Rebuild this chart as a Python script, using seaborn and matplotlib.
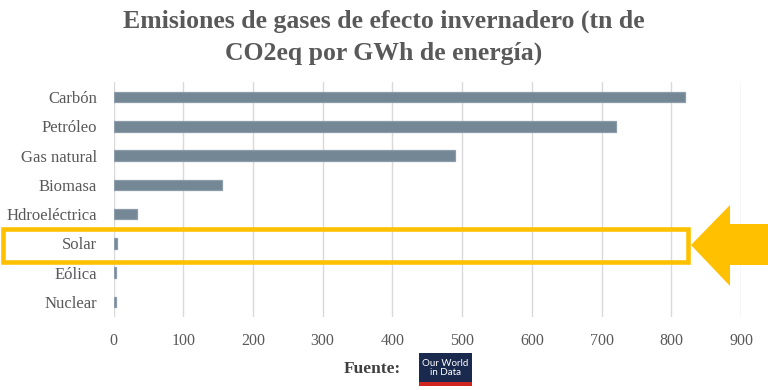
import pandas as pd
import seaborn as sns
import matplotlib.pyplot as plt
from matplotlib.patches import Rectangle, Polygon

# data
fuentes = ['Carbón', 'Petróleo', 'Gas natural', 'Biomasa', 'Hdroeléctrica',
           'Solar', 'Eólica', 'Nuclear']
emisiones = [820, 720, 490, 155, 34, 5, 4, 3]
ticks = [0, 100, 200, 300, 400, 500, 600, 700, 800, 900]

df = pd.DataFrame({'fuente': fuentes, 'emisiones': emisiones})

sns.set_theme(style='white')
plt.rcParams['font.family'] = ['Liberation Serif', 'DejaVu Serif']

txt = '#595959'
yellow = '#FFC000'
bar_col = '#748795'

fig = plt.figure(figsize=(7.68, 3.9), dpi=100)
ax = fig.add_axes([113.5 / 768, 1 - 316.7 / 390, 627.5 / 768, 234.4 / 390])

sns.barplot(data=df, x='emisiones', y='fuente', orient='h', color=bar_col,
            saturation=1, width=0.36, ax=ax, zorder=3,
            edgecolor='#8c9cab', linewidth=0.9)

ax.set_xlim(0, 900)
ax.set_ylim(7.5, -0.5)
ax.set_xticks(ticks)
ax.set_xticklabels([str(t) for t in ticks], fontsize=11.5, color=txt)
ax.tick_params(axis='y', labelsize=12, labelcolor=txt, length=0, pad=12)
ax.tick_params(axis='x', length=0, pad=12)
ax.set_xlabel('')
ax.set_ylabel('')
ax.grid(axis='x', color='#d9d9d9', linewidth=1, zorder=0)
ax.grid(axis='y', visible=False)
ax.set_axisbelow(True)
for s in ax.spines.values():
    s.set_visible(False)

fig.text(0.5, 1 - 21 / 390, 'Emisiones de gases de efecto invernadero (tn de',
         ha='center', va='center', fontsize=18.5, fontweight='bold', color=txt)
fig.text(0.5, 1 - 53 / 390, 'CO2eq por GWh de energía)',
         ha='center', va='center', fontsize=18.5, fontweight='bold', color=txt)

# highlight box around "Solar"
px = lambda x, y: (x / 768, 1 - y / 390)
x0, y0 = px(3, 261.5)
x1, y1 = px(688, 229)
fig.patches.append(Rectangle((x0, y0), x1 - x0, y1 - y0, transform=fig.transFigure,
                             fill=False, edgecolor=yellow, linewidth=3.3, zorder=5))

# arrow pointing at the box
arrow = [px(691, 245), px(730, 205), px(730, 224), px(768, 224),
         px(768, 265), px(730, 265), px(730, 286)]
fig.patches.append(Polygon(arrow, closed=True, transform=fig.transFigure,
                           facecolor=yellow, edgecolor='none', zorder=5))

# source
fig.text(401 / 768, 1 - 369 / 390, 'Fuente:', ha='right', va='center',
         fontsize=12.5, fontweight='bold', color='#404040')
lx0, ly0 = px(419, 386)
lx1, ly1 = px(472, 353)
fig.patches.append(Rectangle((lx0, ly0), lx1 - lx0, ly1 - ly0, transform=fig.transFigure,
                             facecolor='#1a2a4f', edgecolor='none', zorder=5))
rx0, ry0 = px(419, 386)
rx1, ry1 = px(472, 382)
fig.patches.append(Rectangle((rx0, ry0), rx1 - rx0, ry1 - ry0, transform=fig.transFigure,
                             facecolor='#ce261e', edgecolor='none', zorder=6))
fig.text(445.5 / 768, 1 - 368 / 390, 'Our World\nin Data', ha='center', va='center',
         fontsize=7, color='white', family=['Lato', 'DejaVu Sans'],
         linespacing=1.0, zorder=7)

fig.savefig('out.png', dpi=100)
